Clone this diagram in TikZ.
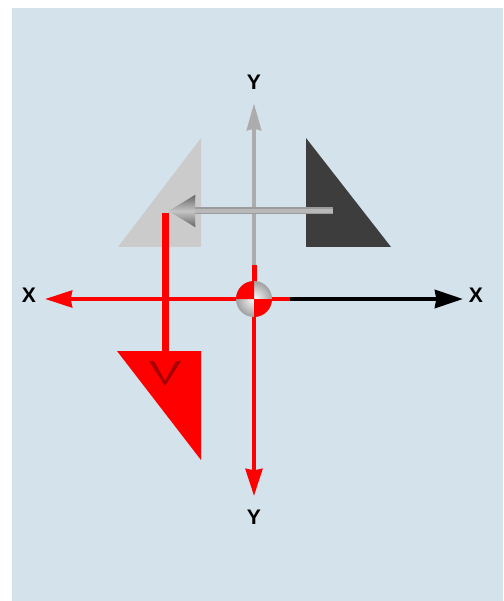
\documentclass[tikz,border=0pt]{standalone}
\usepackage{fontspec}
\setmainfont{Liberation Sans}
\usepackage{xcolor}
\usetikzlibrary{arrows.meta,positioning}
\definecolor{panelc}{RGB}{212,226,236}
\definecolor{lgrayc}{RGB}{203,203,203}
\definecolor{dgrayc}{RGB}{61,61,61}
\definecolor{axgrayc}{RGB}{172,172,172}
\begin{document}
\begin{tikzpicture}[x=0.03cm,y=-0.03cm,font=\bfseries\fontsize{18}{18}\selectfont,
  axlabel/.style={inner sep=0pt,text=black},
  redtip/.style={-{Stealth[length=0.81cm,width=0.5cm,inset=0.04cm]}},
  ]
\useasboundingbox (0,0) rectangle (503,601);
\fill[white] (0,0) rectangle (503,601);
\fill[panelc] (12,8) rectangle (503,601);
% triangles
\fill[lgrayc] (118,247) -- (201,247) -- (201,138) -- cycle;
\fill[dgrayc] (306,247) -- (391,247) -- (306,138) -- cycle;
\fill[red] (117,351) -- (201,351) -- (201,460) -- cycle;
% named points
\node[axlabel] (ytop) at (254,82) {Y};
\node[axlabel] (ybot) at (254,517) {Y};
\node[axlabel] (xleft) at (29,295) {X};
\node[axlabel] (xright) at (476,295) {X};
\coordinate (o) at (254,299);
\coordinate (ytip) at (254,103);
\coordinate (ysw) at (254,265);
\coordinate (ydown) at (254,496);
\coordinate (xtip) at (45,299);
\coordinate (xsw) at (290,299);
\coordinate (xend) at (463,299);
\coordinate (gstart) at (333,211);
\coordinate (gtip) at (169,211);
\coordinate (rstart) at (165,213);
\coordinate (rend) at (165,352);
% grey axis and grey arrow
\draw[axgrayc,line width=0.14cm,-{Stealth[length=0.81cm,width=0.42cm,inset=0.04cm]}] (ysw) -- (ytip);
\draw[axgrayc!90!black,line width=0.21cm,-{Stealth[length=0.78cm,width=0.93cm,inset=0.04cm]}] (gstart) -- (gtip);
\draw[axgrayc!85!white,line width=0.1cm] (gstart) -- (195,211);
\shade[top color=axgrayc!60!black,bottom color=axgrayc!60!black,middle color=axgrayc!70!white] (169,211) -- (195,195) -- (195,227) -- cycle;
% black axis
\draw[black,line width=0.13cm,-{Stealth[length=0.84cm,width=0.54cm,inset=0.04cm]}] (xsw) -- (xend);
% red axes
\draw[red,line width=0.15cm] (ysw) -- (o);
\draw[red,line width=0.12cm] (o) -- (xsw);
\draw[red,line width=0.13cm,redtip] (o) -- (xtip);
\draw[red,line width=0.13cm,redtip] (o) -- (ydown);
\draw[red,line width=0.21cm] (rstart) -- (rend);
% dark mark on red triangle
\fill[red!65!black] (149,361) -- (154,361) -- (165,381) -- (176,361) -- (181,361) -- (165,386) -- cycle;
% centre ball
\node[circle,minimum size=1.08cm,inner sep=0pt,inner color=white,outer color=gray!75,draw=none] (ball) at (o) {};
\fill[red] (o) -- ++(-18,0) arc[start angle=180,end angle=90,x radius=18,y radius=-18] -- cycle;
\fill[red] (o) -- ++(18,0) arc[start angle=0,end angle=-90,x radius=18,y radius=-18] -- cycle;
\end{tikzpicture}
\end{document}
